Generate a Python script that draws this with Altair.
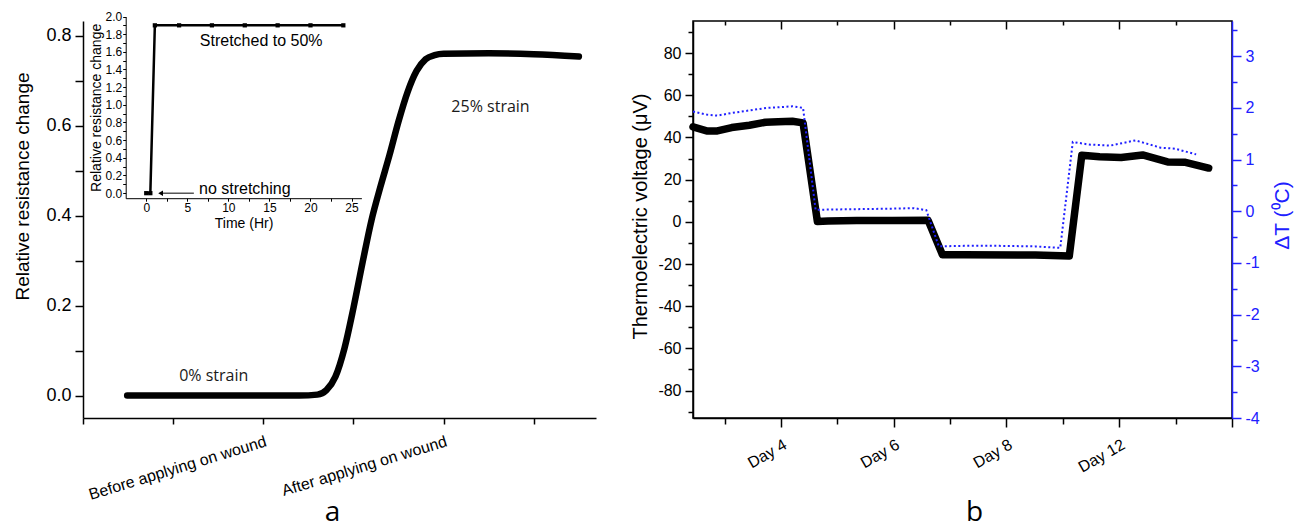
import altair as alt
import pandas as pd

AX_FONT = "Liberation Sans"
NOTE_FONT = "Open Sans"
BLUE = "#2020ff"

# ---------------- panel a : main curve ----------------
A_X = [0.49, 1.0, 1.5, 2.0, 2.4, 2.6, 2.7, 2.8, 2.9, 3.0, 3.1, 3.2, 3.3, 3.4,
       3.5, 3.6, 3.7, 3.8, 3.9, 4.0, 4.5, 5.0, 5.5]
A_Y = [0.0, 0.0, 0.0, 0.0, 0.0, 0.002, 0.012, 0.042, 0.105, 0.195, 0.295, 0.39,
       0.465, 0.535, 0.61, 0.675, 0.722, 0.748, 0.757, 0.76, 0.761, 0.759, 0.754]
A_NOTES = ["0% strain", "25% strain"]
A_NOTE_X = [1.45, 4.52]
A_NOTE_Y = [0.044, 0.642]
A_XTICKS = [0, 1, 2, 3, 4, 5]
A_XLABELS = {2: "Before applying on wound", 4: "After applying on wound"}
A_YTICKS = [0.0, 0.1, 0.2, 0.3, 0.4, 0.5, 0.6, 0.7, 0.8]

# ---------------- panel a : inset ----------------
IN_T = [0, 0.5, 1.05, 4, 8, 12, 16, 20, 24]
IN_R = [0, 0, 1.9, 1.9, 1.9, 1.9, 1.9, 1.9, 1.9]
IN_NOTES = ["Stretched to 50%", "no stretching"]
IN_NOTE_T = [14.0, 12.0]
IN_NOTE_R = [1.72, 0.05]
IN_ARROW_FROM = [5.8]
IN_ARROW_TO = [1.75]
IN_ARROW_R = [0.0]
IN_XTICKS = [0, 2.5, 5, 7.5, 10, 12.5, 15, 17.5, 20, 22.5, 25]
IN_YTICKS = [round(i * 0.1, 1) for i in range(0, 21)]

# ---------------- panel b ----------------
B_X = [0.22, 0.341, 0.436, 0.563, 0.720, 0.863, 0.974, 1.101, 1.196, 1.323,
       1.418, 1.672, 1.988, 2.305, 2.432, 2.622, 3.256, 3.557, 3.668, 3.826,
       4.017, 4.207, 4.429, 4.587, 4.793]
B_V = [45.0, 43.1, 43.1, 44.7, 45.8, 47.2, 47.4, 47.7, 46.9, 0.2, 0.4, 0.6,
       0.6, 0.7, -15.6, -15.6, -15.7, -16.2, 31.6, 30.8, 30.5, 31.7, 28.4,
       28.2, 25.5]
DT_X = [0.22, 0.341, 0.436, 0.563, 0.720, 0.879, 0.974, 1.101, 1.196, 1.307,
        1.355, 1.672, 1.988, 2.178, 2.289, 2.400, 2.622, 2.939, 3.256, 3.477,
        3.588, 3.731, 3.921, 4.143, 4.365, 4.492, 4.682]
DT = [1.93, 1.87, 1.85, 1.90, 1.95, 2.00, 2.01, 2.03, 2.00, 0.03, 0.03, 0.04,
      0.05, 0.06, 0.02, -0.68, -0.67, -0.67, -0.68, -0.71, 1.34, 1.29, 1.27,
      1.37, 1.23, 1.21, 1.10]
B_XTICKS = [0.5, 1, 1.5, 2, 2.5, 3, 3.5, 4, 4.5, 5]
B_XLABELS = {1: "Day 4", 2: "Day 6", 3: "Day 8", 4: "Day 12"}
B_YTICKS = list(range(-90, 100, 10))
DT_TICKS = [x * 0.5 for x in range(-8, 8)]


def label_expr(mapping):
    expr = "''"
    for k, v in reversed(list(mapping.items())):
        expr = f"datum.value === {k} ? '{v}' : ({expr})"
    return expr


def cond_size(test, big, small):
    return {"condition": {"test": test, "value": big}, "value": small}


W_A, W_B, H = 513, 539, 397
EVEN_TENTH = "round(datum.value*10) % 2 === 0"

# ---------- left panel ----------
df_a = pd.DataFrame({"x": A_X, "y": A_Y})
df_a_notes = pd.DataFrame({"x": A_NOTE_X, "y": A_NOTE_Y, "label": A_NOTES})

xa_axis = alt.Axis(values=A_XTICKS, labelExpr=label_expr(A_XLABELS), labelAngle=-17,
                   labelAlign="right", labelBaseline="top", labelFontSize=16,
                   labelLimit=400, labelPadding=9, tickSize=6, labelOverlap=False,
                   tickCount=50,
                   title="a", titleFont=NOTE_FONT, titleFontSize=28, titleX=249,
                   titleY=102, titleBaseline="alphabetic", titleAlign="center")
ya_axis = alt.Axis(values=A_YTICKS,
                   labelExpr=f"{EVEN_TENTH} ? format(datum.value, '.1f') : ''",
                   labelFontSize=18, tickSize=8, labelPadding=4, labelOverlap=False,
                   tickCount=50,
                   title="Relative resistance change", titleFontSize=19,
                   titleX=-61, titleY=165, titleBaseline="middle", titleAlign="center")

xa_scale = alt.Scale(domain=[0, 5.69], nice=False, zero=False)
ya_scale = alt.Scale(domain=[-0.05, 0.833], nice=False, zero=False)

main_line = alt.Chart(df_a).mark_line(
    color="black", strokeWidth=6.5, strokeCap="round", strokeJoin="round",
    interpolate="monotone").encode(
    x=alt.X("x:Q", scale=xa_scale, axis=xa_axis),
    y=alt.Y("y:Q", scale=ya_scale, axis=ya_axis))
main_text = alt.Chart(df_a_notes).mark_text(
    font=NOTE_FONT, fontSize=16, color="#1a1a1a").encode(
    x="x:Q", y="y:Q", text="label:N")

df_in = pd.DataFrame({"t": IN_T, "r": IN_R})
df_in_notes = pd.DataFrame({"t": IN_NOTE_T, "r": IN_NOTE_R, "label": IN_NOTES})
df_arrow = pd.DataFrame({"t0": IN_ARROW_FROM, "t1": IN_ARROW_TO, "r": IN_ARROW_R})

xi_scale = alt.Scale(domain=[-2.5, 26.2], range=[42.7, 278.4], nice=False, zero=False)
yi_scale = alt.Scale(domain=[-0.057, 2.0], range=[177.2, -4.5], nice=False, zero=False)
xi_axis = alt.Axis(orient="bottom", offset=-219.8, values=IN_XTICKS,
                   labelExpr="datum.value % 5 === 0 ? toString(datum.value) : ''",
                   labelFontSize=cond_size("datum.value % 5 === 0", 12, 1),
                   tickSize=3, labelPadding=1, labelOverlap=False, tickCount=50,
                   title="Time (Hr)", titleFontSize=14, titlePadding=3,
                   domainWidth=1, tickWidth=1)
yi_axis = alt.Axis(orient="left", offset=-42.7, values=IN_YTICKS,
                   labelExpr=f"{EVEN_TENTH} ? format(datum.value, '.1f') : ''",
                   labelFontSize=cond_size(EVEN_TENTH, 12, 1),
                   tickSize=3, labelPadding=1, labelOverlap=False, tickCount=50,
                   title="Relative resistance change", titleFontSize=14, titlePadding=2,
                   domainWidth=1, tickWidth=1)

inset_line = alt.Chart(df_in).mark_line(color="black", strokeWidth=2.5).encode(
    x=alt.X("t:Q", scale=xi_scale, axis=xi_axis),
    y=alt.Y("r:Q", scale=yi_scale, axis=yi_axis))
inset_pts = alt.Chart(df_in).mark_point(shape="square", filled=True, size=18,
                                         color="black", opacity=1).encode(
    x="t:Q", y="r:Q")
inset_text = alt.Chart(df_in_notes).mark_text(font=AX_FONT, fontSize=16,
                                              color="black").encode(
    x="t:Q", y="r:Q", text="label:N")
arrow_rule = alt.Chart(df_arrow).mark_rule(color="black", strokeWidth=1).encode(
    x="t0:Q", x2="t1:Q", y="r:Q")
arrow_head = alt.Chart(df_arrow).mark_point(shape="triangle-left", filled=True,
                                            size=30, color="black", opacity=1).encode(
    x="t1:Q", y="r:Q")

inset = alt.layer(inset_line, inset_pts, inset_text, arrow_rule, arrow_head)
left = alt.layer(alt.layer(main_line, main_text), inset).resolve_scale(
    x="independent", y="independent").properties(
    width=W_A, height=H, view=alt.ViewBackground(stroke="transparent"))

# ---------- right panel ----------
df_b = pd.DataFrame({"x": B_X, "v": B_V})
df_dt = pd.DataFrame({"x": DT_X, "dt": DT})

xb_scale = alt.Scale(domain=[0.22, 5.0], nice=False, zero=False)
yb_scale = alt.Scale(domain=[-93.0, 95.2], nice=False, zero=False)
ydt_scale = alt.Scale(domain=[-4.0, 3.68], nice=False, zero=False)

xb_axis = alt.Axis(orient="bottom", values=B_XTICKS, labelExpr=label_expr(B_XLABELS),
                   labelAngle=-30, labelAlign="right", labelBaseline="top",
                   labelFontSize=16, labelPadding=9, labelOverlap=False, tickCount=50,
                   tickSize=cond_size("datum.value % 1 === 0", 9, 6),
                   title="b", titleFont=NOTE_FONT, titleFontSize=28, titleX=281,
                   titleY=102, titleBaseline="alphabetic", titleAlign="center")
yb_axis = alt.Axis(orient="left", values=B_YTICKS,
                   labelExpr="datum.value % 20 === 0 ? toString(datum.value) : ''",
                   labelFontSize=16, labelPadding=4, labelOverlap=False, tickCount=50,
                   tickSize=cond_size("datum.value % 20 === 0", 8, 5),
                   title="Thermoelectric voltage (\u03bcV)", titleFontSize=20,
                   titleX=-53, titleY=195, titleBaseline="middle", titleAlign="center")
ydt_axis = alt.Axis(orient="right", values=DT_TICKS,
                    labelExpr="datum.value % 1 === 0 ? toString(datum.value) : ''",
                    labelFontSize=16, labelPadding=4, labelOverlap=False, tickCount=50,
                    labelColor=BLUE, tickColor=BLUE, domainColor=BLUE,
                    tickSize=cond_size("datum.value % 1 === 0", 9, 5),
                    title="\u0394T (\u2070C)", titleColor=BLUE, titleFontSize=21,
                    titleAngle=270, titleX=50, titleY=194, titleBaseline="middle",
                    titleAlign="center")
top_major_axis = alt.Axis(orient="top", offset=-8, values=[1, 2, 3, 4], tickSize=8,
                          labels=False, domain=False, title=None, tickCount=50)
top_minor_axis = alt.Axis(orient="top", offset=-4, values=[0.5, 1.5, 2.5, 3.5, 4.5],
                          tickSize=4, labels=False, domain=False, title=None,
                          tickCount=50)

b_line = alt.Chart(df_b).mark_line(color="black", strokeWidth=7.5, strokeJoin="round",
                                   strokeCap="round").encode(
    x=alt.X("x:Q", scale=xb_scale, axis=xb_axis),
    y=alt.Y("v:Q", scale=yb_scale, axis=yb_axis))
top_major = alt.Chart(df_b).mark_point(opacity=0).encode(
    x=alt.X("x:Q", axis=top_major_axis))
top_minor = alt.Chart(df_b).mark_point(opacity=0).encode(
    x=alt.X("x:Q", axis=top_minor_axis))
dt_line = alt.Chart(df_dt).mark_line(color=BLUE, strokeWidth=2,
                                     strokeDash=[2, 2.5]).encode(
    x=alt.X("x:Q", axis=None),
    y=alt.Y("dt:Q", scale=ydt_scale, axis=ydt_axis))

right = alt.layer(b_line, top_major, top_minor, dt_line).resolve_scale(
    y="independent").resolve_axis(x="independent", y="independent").properties(
    width=W_B, height=H, view=alt.ViewBackground(stroke="black", strokeWidth=1.5))

chart = alt.hconcat(left, right, spacing=97, bounds="flush").properties(
    padding={"left": 12, "top": 10, "right": 2, "bottom": 0}
).configure_axis(
    domainColor="black", tickColor="black", labelColor="black", titleColor="black",
    labelFont=AX_FONT, titleFont=AX_FONT, titleFontWeight="normal", grid=False,
    domainWidth=1.5, tickWidth=1.5
).configure_view(stroke="transparent")

chart.save("out.html", embed_options={"renderer": "svg", "actions": False})
